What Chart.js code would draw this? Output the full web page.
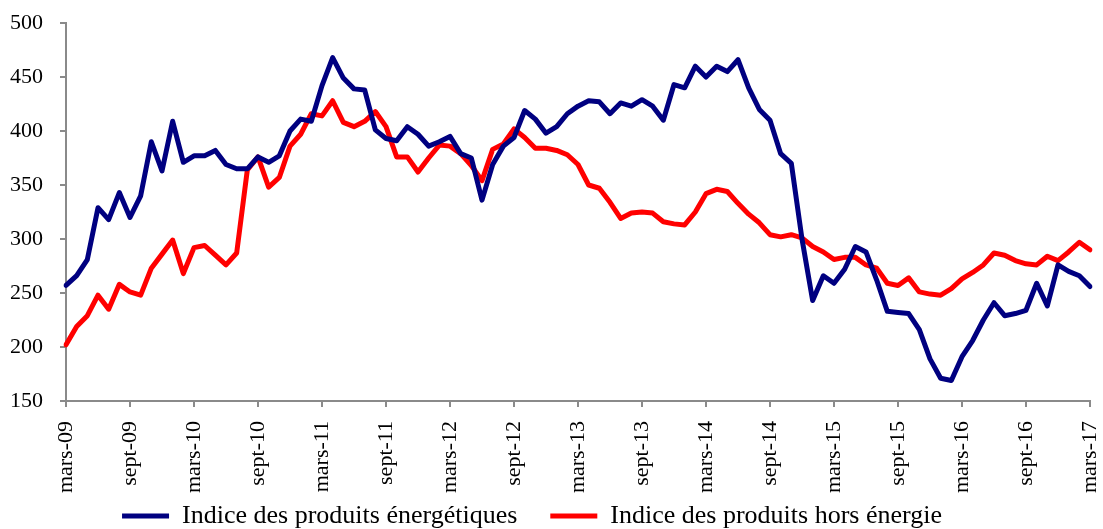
<!DOCTYPE html>
<html>
<head>
<meta charset="utf-8">
<script src="https://cdn.jsdelivr.net/npm/chart.js@4/dist/chart.umd.min.js"></script>
<style>
  body { margin: 0; background: #fff; }
  #graph { display: block; }
</style>
</head>
<body>
<canvas id="graph" width="1103" height="529"></canvas>
<script>
// mois : de mars-09 a mars-17, un point par mois
const moisCourts = ['janv', 'févr', 'mars', 'avr', 'mai', 'juin', 'juil', 'août', 'sept', 'oct', 'nov', 'déc'];
const nbMois = 97;
const mois = [];
for (let k = 0; k < nbMois; k++) {
    const m = (2 + k) % 12;
    const an = 9 + Math.floor((2 + k) / 12);
    mois.push(moisCourts[m] + '-' + String(an).padStart(2, '0'));
}

// Indice des produits energetiques
const energetiques = [
    257, 266, 281, 329, 318, 343, 320, 340, 390, 363, 409, 371,
    377, 377, 382, 369, 365, 365, 376, 371, 377, 400, 411, 409,
    442, 468, 449, 439, 438, 401, 393, 391, 404, 397, 386, 390,
    395, 379, 375, 336, 369, 386, 394, 419, 411, 398, 404, 416,
    423, 428, 427, 416, 426, 423, 429, 423, 410, 443, 440, 460,
    450, 460, 455, 466, 440, 420, 410, 379, 370, 300, 243, 266,
    259, 272, 293, 288, 262, 233, 232, 231, 216, 189, 171, 169,
    191, 206, 225, 241, 229, 231, 234, 259, 238, 276, 270, 266,
    256
];

// Indice des produits hors energie
const horsEnergie = [
    202, 219, 229, 248, 235, 258, 251, 248, 273, 286, 299, 268,
    292, 294, 285, 276, 287, 364, 376, 348, 357, 386, 397, 416,
    414, 428, 408, 404, 409, 418, 404, 376, 376, 362, 375, 387,
    386, 379, 368, 354, 383, 388, 402, 394, 384, 384, 382, 378,
    369, 350, 347, 334, 319, 324, 325, 324, 316, 314, 313, 325,
    342, 346, 344, 333, 323, 315, 304, 302, 304, 301, 293, 288,
    281, 283, 283, 276, 273, 259, 257, 264, 251, 249, 248, 254,
    263, 269, 276, 287, 285, 280, 277, 276, 284, 280, 288, 297,
    290
];

const yTicks = [150, 200, 250, 300, 350, 400, 450, 500];

const police = 'Liberation Serif, Times New Roman, serif';
const gris = '#8a8a8a';

// les etiquettes du bas sont coupees un peu plus bas que la boite de l'axe
const coupeEtiquettes = {
    id: 'coupeEtiquettes',
    afterLayout(chart) {
        const x = chart.scales.x;
        x.bottom = x.top + 92;
    }
};

const ctx = document.getElementById('graph');
const chart = new Chart(ctx, {
    type: 'line',
    data: {
        labels: mois,
        datasets: [
            {
                label: 'Indice des produits énergétiques',
                data: energetiques,
                borderColor: '#000080',
                backgroundColor: '#000080',
                borderWidth: 5,
                borderCapStyle: 'round',
                borderJoinStyle: 'round',
                pointRadius: 0,
                tension: 0
            },
            {
                label: 'Indice des produits hors énergie',
                data: horsEnergie,
                borderColor: '#ff0000',
                backgroundColor: '#ff0000',
                borderWidth: 5,
                borderCapStyle: 'round',
                borderJoinStyle: 'round',
                pointRadius: 0,
                tension: 0
            }
        ]
    },
    plugins: [coupeEtiquettes],
    options: {
        responsive: false,
        animation: false,
        layout: { padding: { top: 23, right: 13, bottom: -10, left: -26 } },
        plugins: {
            tooltip: { enabled: false },
            legend: {
                position: 'bottom',
                labels: {
                    usePointStyle: true,
                    pointStyle: 'line',
                    pointStyleWidth: 47,
                    padding: 33,
                    color: '#000',
                    font: { family: police, size: 26 }
                }
            }
        },
        scales: {
            x: {
                grid: { drawOnChartArea: false, drawTicks: true, tickLength: 6, color: gris, lineWidth: 2 },
                border: { color: gris, width: 2 },
                ticks: {
                    autoSkip: false,
                    minRotation: 90,
                    maxRotation: 90,
                    padding: 14,
                    color: '#000',
                    font: { family: police, size: 22 },
                    callback: function (val, idx) {
                        return idx % 6 === 0 ? this.getLabelForValue(val) : null;
                    }
                },
                afterFit: function (s) {
                    s.height = 69;
                    s.paddingLeft = 0;
                    s.paddingRight = 0;
                }
            },
            y: {
                min: yTicks[0],
                max: yTicks[yTicks.length - 1],
                afterBuildTicks: function (s) { s.ticks = yTicks.map(v => ({ value: v })); },
                grid: { drawOnChartArea: false, drawTicks: true, tickLength: 6, color: gris, lineWidth: 2 },
                border: { color: gris, width: 2 },
                ticks: {
                    padding: 17,
                    color: '#000',
                    font: { family: police, size: 22 }
                },
                afterFit: function (s) {
                    s.width = 92;
                    s.paddingTop = 0;
                    s.paddingBottom = 0;
                }
            }
        }
    }
});
</script>
</body>
</html>
